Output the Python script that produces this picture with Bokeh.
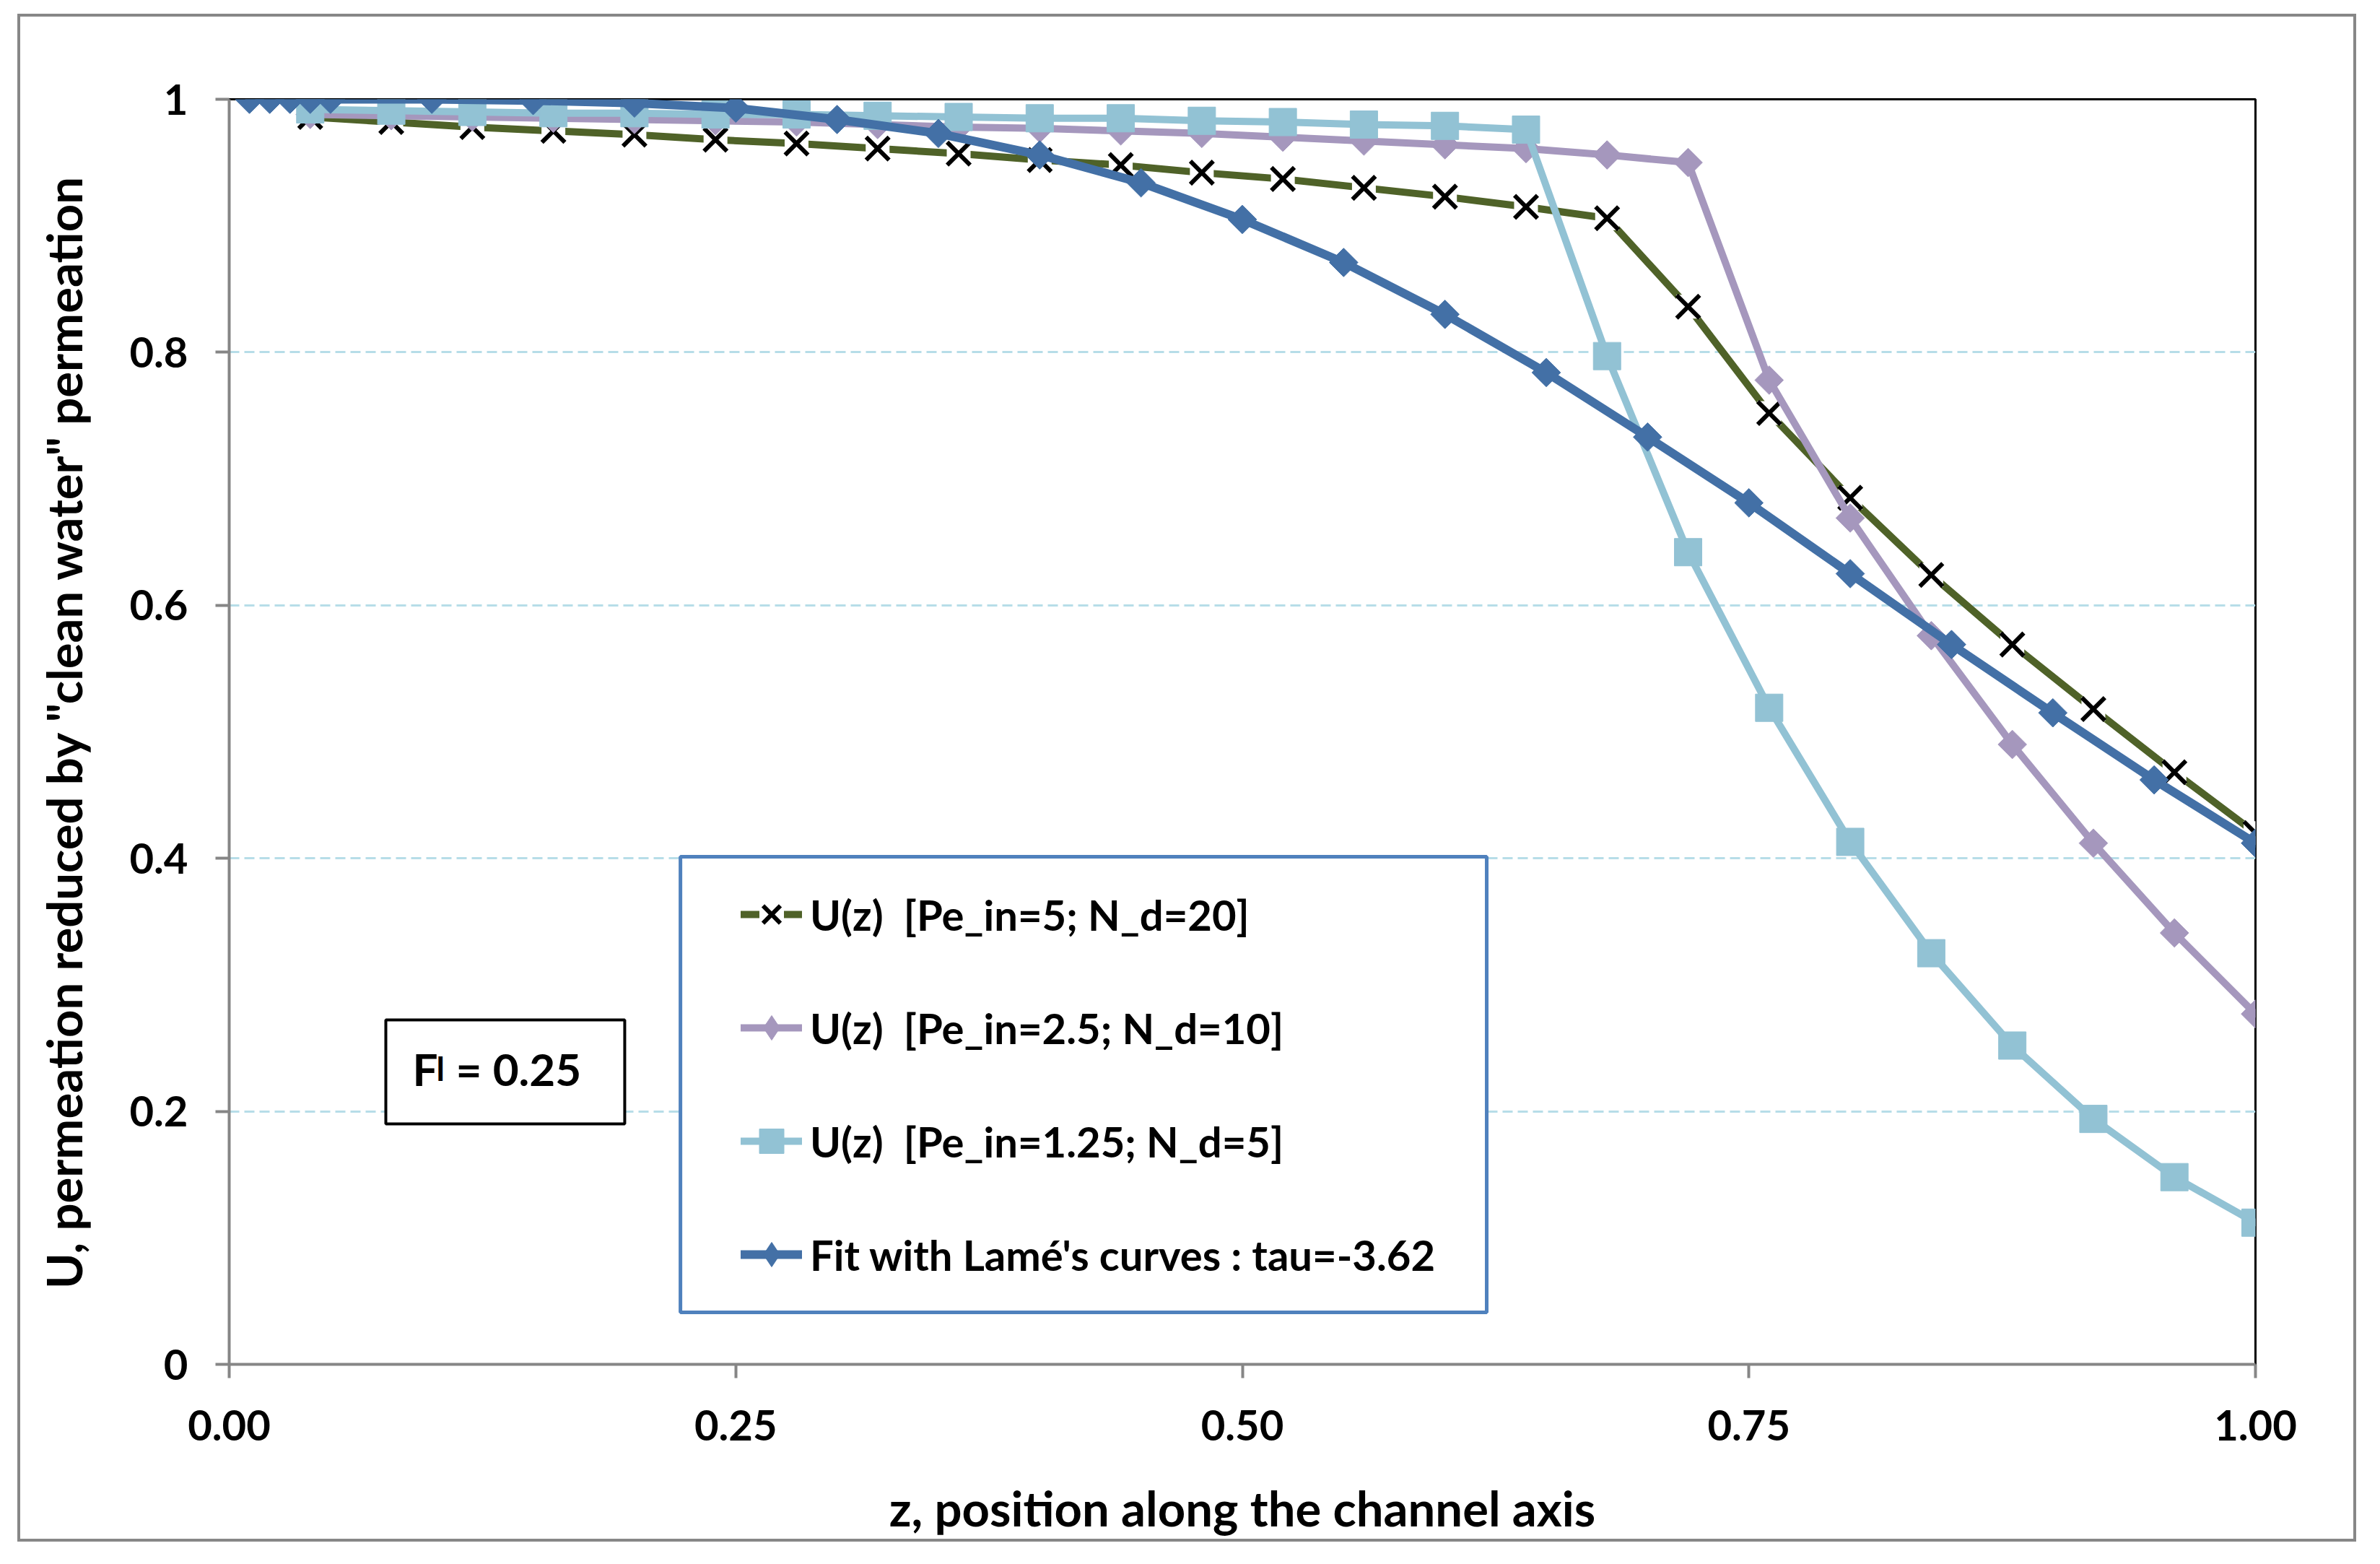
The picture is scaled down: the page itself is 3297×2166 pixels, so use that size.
from math import pi
from bokeh.plotting import figure
from bokeh.models import (Range1d, FixedTicker, Legend, LegendItem, BoxAnnotation, Label)
from bokeh.embed import file_html
from bokeh.resources import INLINE

# ---------------- data ----------------
z_sim = [0.04, 0.08, 0.12, 0.16, 0.20, 0.24, 0.28, 0.32, 0.36, 0.40, 0.44, 0.48, 0.52,
         0.56, 0.60, 0.64, 0.68, 0.72, 0.76, 0.80, 0.84, 0.88, 0.92, 0.96, 1.00]

u_pe5 = [0.986, 0.982, 0.978, 0.975, 0.972, 0.968, 0.965, 0.961, 0.957, 0.952, 0.948, 0.942, 0.937,
         0.930, 0.923, 0.915, 0.906, 0.836, 0.752, 0.685, 0.624, 0.569, 0.518, 0.468, 0.420]

u_pe25 = [0.988, 0.987, 0.986, 0.985, 0.984, 0.983, 0.982, 0.980, 0.978, 0.977, 0.975, 0.973, 0.970,
          0.967, 0.964, 0.961, 0.956, 0.950, 0.778, 0.669, 0.576, 0.490, 0.412, 0.341, 0.277]

u_pe125 = [0.992, 0.991, 0.990, 0.989, 0.989, 0.988, 0.988, 0.987, 0.986, 0.985, 0.985, 0.983, 0.982,
           0.980, 0.979, 0.976, 0.797, 0.642, 0.519, 0.413, 0.325, 0.252, 0.194, 0.148, 0.112]

z_fit = [0.01, 0.02, 0.03, 0.04, 0.05, 0.10, 0.15, 0.20, 0.25, 0.30, 0.35, 0.40, 0.45,
         0.50, 0.55, 0.60, 0.65, 0.70, 0.75, 0.80, 0.85, 0.90, 0.95, 1.00]
u_fit = [1.000, 1.000, 1.000, 1.000, 1.000, 1.000, 0.999, 0.997, 0.993, 0.984, 0.973, 0.956, 0.934,
         0.905, 0.871, 0.830, 0.784, 0.733, 0.681, 0.625, 0.569, 0.515, 0.462, 0.412]

series_labels = ["U(z)  [Pe_in=5; N_d=20]",
                 "U(z)  [Pe_in=2.5; N_d=10]",
                 "U(z)  [Pe_in=1.25; N_d=5]",
                 "Fit with Lamé's curves : tau=-3.62"]

x_ticks = [0.0, 0.25, 0.5, 0.75, 1.0]
x_tick_labels = ["0.00", "0.25", "0.50", "0.75", "1.00"]
y_ticks = [0.0, 0.2, 0.4, 0.6, 0.8, 1.0]
y_tick_labels = ["0", "0.2", "0.4", "0.6", "0.8", "1"]

x_title = "z, position along the channel axis"
y_title = 'U, permeation reduced by "clean water" permeation'
f_main, f_sub, f_rest = "F", "l", "= 0.25"

# ---------------- style ----------------
FONT = "Lato"
GREEN = "#4F6228"
PURPLE = "#A597BD"
LIGHTBLUE = "#92C2D4"
BLUE = "#4370A6"
AXIS_GRAY = "#868686"
NAN = float("nan")

p = figure(width=3240, height=2116,
           x_range=Range1d(0, 1), y_range=Range1d(0, 1),
           output_backend="svg", toolbar_location=None,
           min_border_left=289, min_border_right=144,
           min_border_top=114, min_border_bottom=250)
p.styles = {"border": "4px solid #878787", "margin-left": "24px", "margin-top": "19px"}

p.background_fill_color = "white"
p.border_fill_color = "white"
p.outline_line_color = "black"
p.outline_line_width = 3
p.outline_line_alpha = 1

p.xgrid.visible = False
p.ygrid.grid_line_color = "#B7DDE8"
p.ygrid.grid_line_width = 3
p.ygrid.grid_line_dash = "14 7"

for ax in (p.xaxis[0], p.yaxis[0]):
    ax.axis_line_color = AXIS_GRAY
    ax.axis_line_width = 4
    ax.major_tick_line_color = AXIS_GRAY
    ax.major_tick_line_width = 4
    ax.major_tick_out = 19
    ax.major_tick_in = 0
    ax.minor_tick_line_color = None
    ax.major_label_text_font = FONT
    ax.major_label_text_font_style = "bold"
    ax.major_label_text_font_size = "58px"
    ax.major_label_text_color = "black"
    ax.axis_label_text_font = FONT
    ax.axis_label_text_font_style = "bold"
    ax.axis_label_text_font_size = "67px"
    ax.axis_label_text_color = "black"

p.xaxis.ticker = FixedTicker(ticks=x_ticks)
p.xaxis.major_label_overrides = dict(zip(x_ticks, x_tick_labels))
p.yaxis.ticker = FixedTicker(ticks=y_ticks)
p.yaxis.major_label_overrides = dict(zip(y_ticks, y_tick_labels))
p.ygrid.ticker = FixedTicker(ticks=y_ticks)

p.xaxis.axis_label = x_title
p.yaxis.axis_label = y_title
p.xaxis.major_label_standoff = 44
p.xaxis.axis_label_standoff = 50
p.yaxis.major_label_standoff = 38
p.yaxis.axis_label_standoff = 48

# ---------------- series ----------------
line_kw = dict(line_cap="round", line_join="round")

r1_line = p.line(z_sim, u_pe5, line_color=GREEN, line_width=10, **line_kw)
r1_gap = p.scatter(z_sim, u_pe5, marker="square", size=33, fill_color="white", line_color=None)
r1_mk = p.scatter(z_sim, u_pe5, marker="x", size=45, line_color="black", line_width=6)

r2_line = p.line(z_sim, u_pe25, line_color=PURPLE, line_width=10, **line_kw)
r2_mk = p.scatter(z_sim, u_pe25, marker="square", angle=pi / 4, size=28,
                  fill_color=PURPLE, line_color=PURPLE)

r3_line = p.line(z_sim, u_pe125, line_color=LIGHTBLUE, line_width=10, **line_kw)
r3_mk = p.scatter(z_sim, u_pe125, marker="square", size=38,
                  fill_color=LIGHTBLUE, line_color=LIGHTBLUE)

r4_line = p.line(z_fit, u_fit, line_color=BLUE, line_width=12, **line_kw)
r4_mk = p.scatter(z_fit, u_fit, marker="square", angle=pi / 4, size=28,
                  fill_color=BLUE, line_color=BLUE)

# legend-only diamond symbols (the legend does not rotate markers)
r2_leg = p.scatter([NAN], [NAN], marker="diamond", fill_color=PURPLE, line_color=PURPLE)
r4_leg = p.scatter([NAN], [NAN], marker="diamond", fill_color=BLUE, line_color=BLUE)

# ---------------- legend (frame drawn as a box, items placed inside) ----------------
legend_box = BoxAnnotation(left=0.2227, right=0.6206, bottom=0.0411, top=0.4013,
                           fill_color="white", fill_alpha=1,
                           line_color="#4F81BD", line_alpha=1, line_width=5)
p.add_layout(legend_box)

legend = Legend(items=[
    LegendItem(label=series_labels[0], renderers=[r1_line, r1_gap, r1_mk]),
    LegendItem(label=series_labels[1], renderers=[r2_line, r2_leg]),
    LegendItem(label=series_labels[2], renderers=[r3_line, r3_mk]),
    LegendItem(label=series_labels[3], renderers=[r4_line, r4_leg]),
], location=(709, 107))
legend.border_line_color = None
legend.background_fill_alpha = 0
legend.label_text_font = FONT
legend.label_text_font_style = "bold"
legend.label_text_font_size = "58px"
legend.label_text_color = "black"
legend.glyph_width = 85
legend.glyph_height = 90
legend.label_height = 90
legend.label_standoff = 11
legend.spacing = 67
legend.padding = 0
legend.margin = 0
p.add_layout(legend)

# ---------------- "Fl = 0.25" box ----------------
fbox = BoxAnnotation(left=0.0773, right=0.1952, bottom=0.1901, top=0.2723,
                     fill_color="white", fill_alpha=1,
                     line_color="black", line_alpha=1, line_width=4)
p.add_layout(fbox)
f_y = 0.2340
p.add_layout(Label(x=0.0905, y=f_y, text=f_main, text_font=FONT, text_font_style="bold",
                   text_font_size="62px", text_baseline="alphabetic", text_color="black"))
p.add_layout(Label(x=0.1022, y=f_y, text=f_sub, text_font=FONT, text_font_style="bold",
                   text_font_size="46px", text_baseline="alphabetic", text_color="black"))
p.add_layout(Label(x=0.1119, y=f_y, text=f_rest, text_font=FONT, text_font_style="bold",
                   text_font_size="62px", text_baseline="alphabetic", text_color="black"))

open("out.html", "w").write(file_html(p, INLINE))
